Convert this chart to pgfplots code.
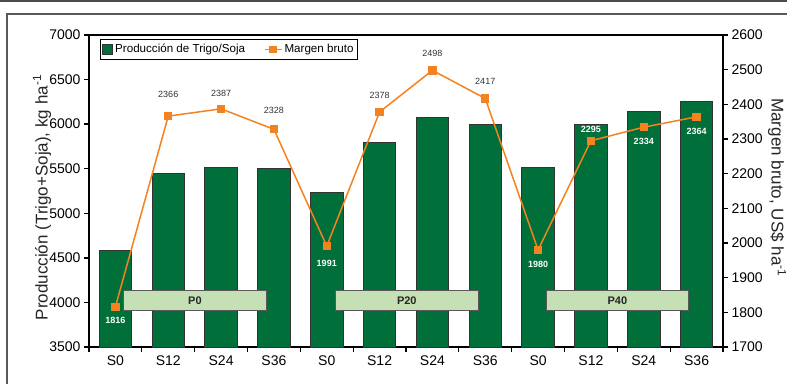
\documentclass[border=0pt]{standalone}
\usepackage{pgfplots}
\pgfplotsset{compat=1.18}
\usepackage{fontspec}
\setmainfont{Liberation Sans}
\definecolor{barGreen}{RGB}{0,111,58}
\definecolor{bandGreen}{RGB}{197,224,180}
\definecolor{lineOrange}{RGB}{245,130,32}
\tikzset{dl/.style={font=\fontsize{9}{10}\selectfont, text=black!80},
  wl/.style={font=\fontsize{9}{10}\selectfont\bfseries, text=white}}
\begin{document}
\begin{tikzpicture}[x=1pt,y=1pt]
\path[use as bounding box] (0,0) rectangle (787,383);
\draw[line width=1.3pt, color=black!70] (0,382) -- (787,382);
\draw[line width=1.3pt, color=black!65] (7,-2) -- (7,369) -- (790,369);
\begin{axis}[
  at={(89pt,36pt)}, anchor=south west,
  scale only axis, width=634pt, height=312pt,
  xmin=-0.5, xmax=11.5, ymin=3500, ymax=7000,
  ytick={3500,4000,...,7000},
  xtick={-0.5,0.5,...,11.5},
  x tick label as interval,
  xticklabels={S0,S12,S24,S36,S0,S12,S24,S36,S0,S12,S24,S36},
  tick align=outside, tick pos=left,
  major tick length=5pt,
  axis line style={line width=1.5pt},
  tick style={line width=1.3pt, black},
  ticklabel style={font=\fontsize{14}{16}\selectfont},
  /pgf/number format/assume math mode=true,
  /pgf/number format/set thousands separator={},
  ybar, bar width=32.5pt,
  legend columns=2,
  legend style={at={(axis description cs:0.0174,0.987)}, anchor=north west,
    draw=black, line width=0.8pt, font=\fontsize{11.6}{12}\selectfont,
    inner xsep=2pt, inner ysep=3pt,
    /tikz/every even column/.append style={column sep=17pt}},
]
\addplot[fill=barGreen, draw=black!80, line width=1pt,
  legend image code/.code={\draw[fill=barGreen, draw=black!80, line width=0.8pt] (0pt,-5pt) rectangle (10pt,5pt);}]
  coordinates {(0,4580) (1,5450) (2,5515) (3,5500) (4,5235) (5,5790) (6,6080) (7,6000) (8,5515) (9,6000) (10,6140) (11,6250)};
\addlegendentry{Producción de Trigo/Soja}
\addlegendimage{legend image code/.code={\draw[lineOrange, line width=1.5pt] (0pt,0pt) -- (17pt,0pt); \fill[lineOrange] (5.1pt,-3.4pt) rectangle (11.9pt,3.4pt);}}
\addlegendentry{Margen bruto}
\draw[fill=bandGreen, draw=black!65, line width=0.9pt] (axis cs:0.16,3907) rectangle (axis cs:2.85,4132);
\draw[fill=bandGreen, draw=black!65, line width=0.9pt] (axis cs:4.16,3907) rectangle (axis cs:6.87,4132);
\draw[fill=bandGreen, draw=black!65, line width=0.9pt] (axis cs:8.15,3907) rectangle (axis cs:10.85,4132);
\node[font=\fontsize{11}{12}\selectfont\bfseries, text=black!85] at (axis cs:1.505,4019.5) {P0};
\node[font=\fontsize{11}{12}\selectfont\bfseries, text=black!85] at (axis cs:5.515,4019.5) {P20};
\node[font=\fontsize{11}{12}\selectfont\bfseries, text=black!85] at (axis cs:9.5,4019.5) {P40};
\end{axis}
\begin{axis}[
  at={(89pt,36pt)}, anchor=south west,
  scale only axis, width=634pt, height=312pt,
  xmin=-0.5, xmax=11.5, ymin=1700, ymax=2600,
  axis y line*=right, axis x line=none,
  ytick={1700,1800,...,2600},
  tick align=outside, major tick length=5pt,
  axis line style={line width=1.5pt},
  tick style={line width=1.3pt, black},
  ticklabel style={font=\fontsize{14}{16}\selectfont},
  /pgf/number format/assume math mode=true,
  /pgf/number format/set thousands separator={},
]
\addplot[lineOrange, line width=1.5pt, mark=square*, mark size=3.4pt]
  coordinates {(0,1816) (1,2366) (2,2387) (3,2328) (4,1991) (5,2378) (6,2498) (7,2417) (8,1980) (9,2295) (10,2334) (11,2364)};
\node[wl, yshift=-14pt] at (axis cs:0,1816) {1816};
\node[dl, yshift=22pt] at (axis cs:1,2366) {2366};
\node[dl, yshift=15pt] at (axis cs:2,2387) {2387};
\node[dl, yshift=19pt] at (axis cs:3,2328) {2328};
\node[wl, yshift=-17pt] at (axis cs:4,1991) {1991};
\node[dl, yshift=17pt] at (axis cs:5,2378) {2378};
\node[dl, yshift=17pt] at (axis cs:6,2498) {2498};
\node[dl, yshift=17pt] at (axis cs:7,2417) {2417};
\node[wl, yshift=-14pt] at (axis cs:8,1980) {1980};
\node[wl, yshift=11pt] at (axis cs:9,2295) {2295};
\node[wl, yshift=-14pt] at (axis cs:10,2334) {2334};
\node[wl, yshift=-15pt] at (axis cs:11,2364) {2364};
\end{axis}
\node[rotate=90, anchor=base, font=\fontsize{17}{19}\selectfont, text=black!85] at (47.5,185.5) {Producción (Trigo+Soja), kg ha\textsuperscript{-1}};
\node[rotate=-90, anchor=base, font=\fontsize{17}{19}\selectfont, text=black!85] at (771.5,195.5) {Margen bruto, US\$ ha\textsuperscript{-1}};
\end{tikzpicture}
\end{document}
